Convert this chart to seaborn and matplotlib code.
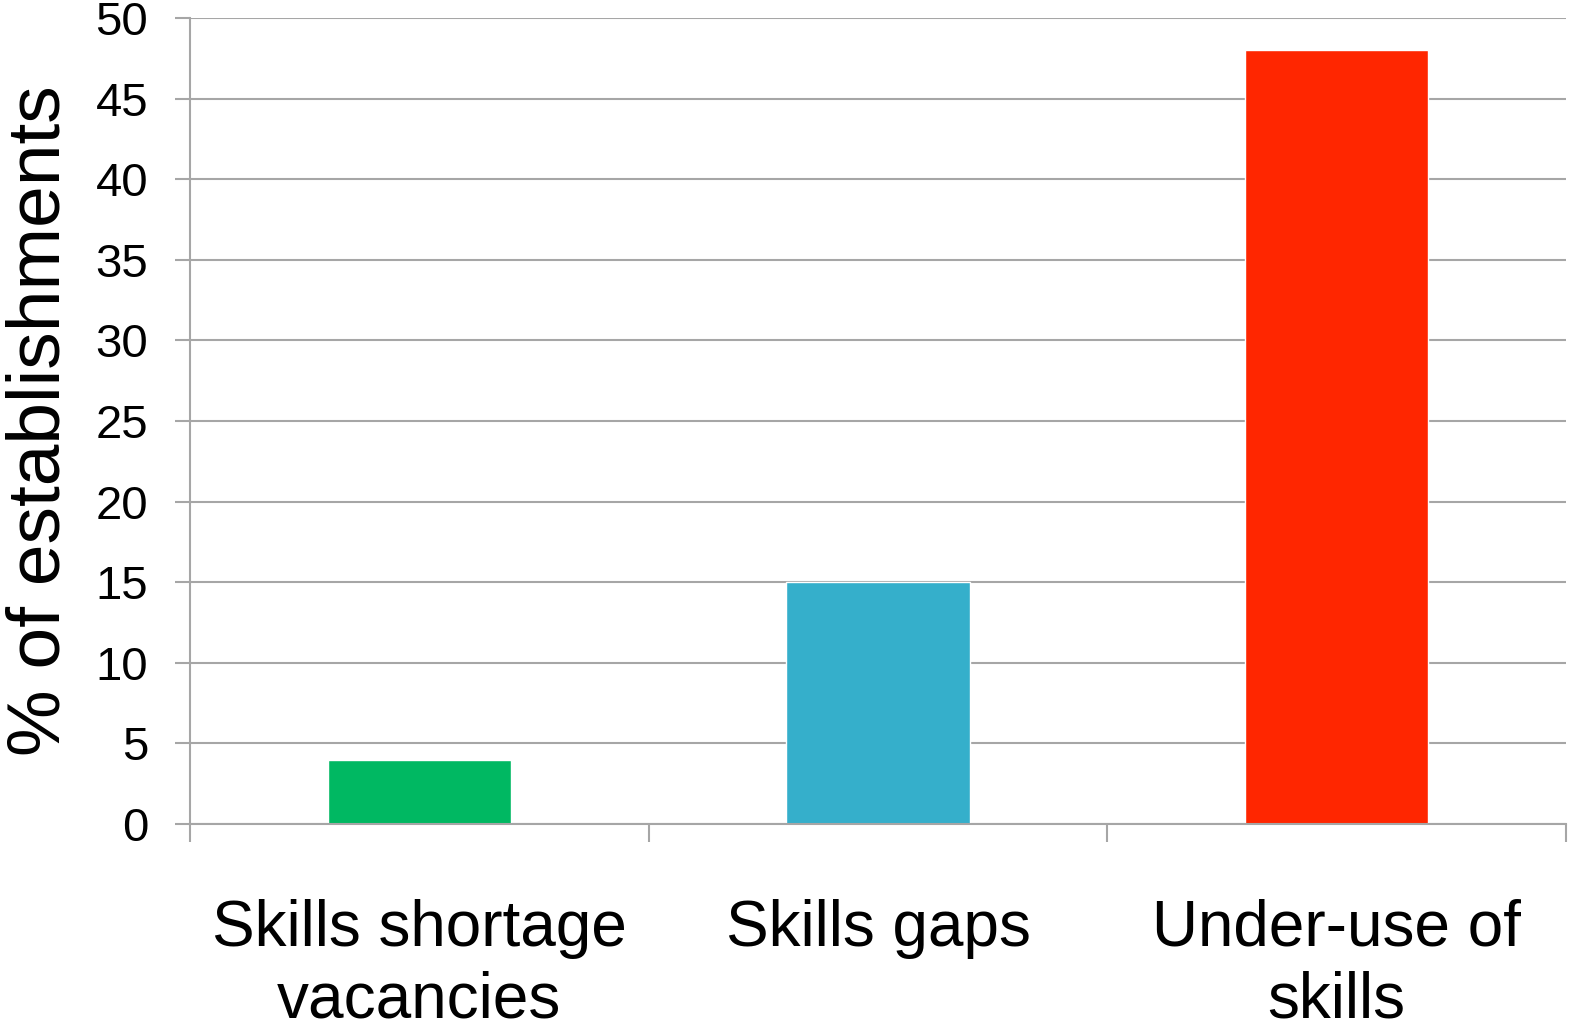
import matplotlib
matplotlib.use("Agg")
import matplotlib.pyplot as plt
import seaborn as sns
import pandas as pd

categories = ["Skills shortage\nvacancies", "Skills gaps", "Under-use of\nskills"]
values = [4, 15, 48]
colors = ["#00B862", "#35AFCB", "#FF2600"]
yticks = [0, 5, 10, 15, 20, 25, 30, 35, 40, 45, 50]

sns.set_theme(style="white")
plt.rcParams['font.family'] = ['Liberation Sans', 'DejaVu Sans']

df = pd.DataFrame({"cat": categories, "val": values})

fig = plt.figure(figsize=(15.74, 10.31), dpi=100)
ax = fig.add_axes([190/1574, 1 - 824/1031, (1566-190)/1574, (824-18)/1031])

sns.barplot(data=df, x="cat", y="val", hue="cat", palette=colors, width=0.4,
            legend=False, ax=ax, saturation=1)

ax.set_ylim(0, 50)
ax.set_xlim(-0.5, 2.5)
ax.set_yticks(yticks)
ax.yaxis.grid(True, color="#A6A6A6", linewidth=1.5)
ax.set_axisbelow(True)
for s in ["top", "right"]:
    ax.spines[s].set_visible(False)
for s in ["left", "bottom"]:
    ax.spines[s].set_color("#A6A6A6")
    ax.spines[s].set_linewidth(1.5)

ax.tick_params(axis="y", which="major", length=11, width=1.5, color="#A6A6A6",
               labelsize=34, pad=19, left=True)
ax.set_xticks([-0.5, 0.5, 1.5, 2.5], minor=True)
ax.tick_params(axis="x", which="minor", length=13, width=1.5, color="#A6A6A6", bottom=True)
ax.tick_params(axis="x", which="major", length=0, labelsize=46, pad=54)
ax.set_xticks(range(len(categories)))
ax.set_xticklabels(categories, linespacing=1.25)
for lab in ax.get_xticklabels() + ax.get_yticklabels():
    lab.set_color("black")

ax.set_xlabel("")
ax.set_ylabel("% of establishments", fontsize=54, color="black", labelpad=15)

fig.savefig("out.png", dpi=100, facecolor="white")
